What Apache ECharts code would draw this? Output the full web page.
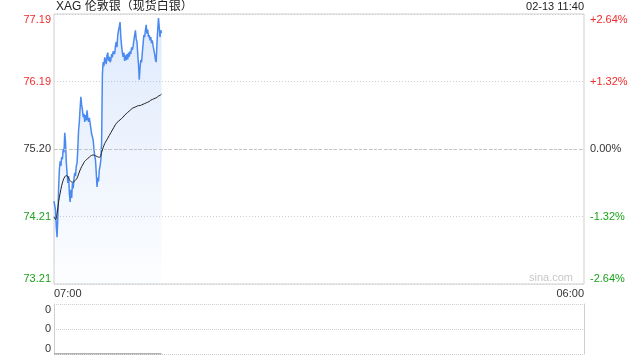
<!DOCTYPE html>
<html><head><meta charset="utf-8">
<script src="https://cdn.jsdelivr.net/npm/echarts@6/dist/echarts.min.js"></script>
<style>html,body{margin:0;padding:0;background:#fff}#c{width:640px;height:360px}</style>
</head><body><div id="c"></div>
<script>
const titleText = 'XAG 伦敦银（现货白银）';
const stampText = '02-13 11:40';
const watermarkText = 'sina.com';
const xTickLabels = ['07:00', '06:00'];
const sessionMinutes = 1380;
const priceTickLabels = ['73.21', '74.21', '75.20', '76.19', '77.19'];
const pctTickLabels = ['-2.64%', '-1.32%', '0.00%', '+1.32%', '+2.64%'];
const volTickLabels = ['0', '0', '0'];
const prevClose = 75.20;
const priceMin = 73.21;
const priceMax = 77.19;

// price sampled every 2 minutes from 07:00
const priceStep = 2;
const prices = [
  74.43, 74.45, 74.30, 74.05, 73.90, 74.20, 74.62, 74.90, 75.02, 74.95,
  75.08, 75.05, 75.20, 75.15, 75.44, 75.30, 75.00, 74.85, 74.70, 74.80,
  74.55, 74.42, 74.60, 74.48, 74.70, 74.62, 74.76, 74.85, 74.80, 74.95,
  74.99, 75.20, 75.48, 75.60, 75.80, 75.97, 75.85, 75.78, 75.67, 75.72,
  75.60, 75.70, 75.62, 75.77, 75.65, 75.60, 75.66, 75.58, 75.50, 75.42,
  75.38, 75.33, 75.20, 75.10, 75.04, 74.85, 74.64, 74.78, 74.72, 74.89,
  74.95, 75.04, 75.30, 76.30, 76.48, 76.42, 76.55, 76.51, 76.45, 76.58,
  76.62, 76.50, 76.56, 76.48, 76.51, 76.60, 76.55, 76.64, 76.66, 76.60,
  76.72, 76.78, 76.70, 76.88, 76.95, 77.00, 77.07, 76.85, 76.72, 76.62,
  76.56, 76.62, 76.50, 76.58, 76.51, 76.60, 76.52, 76.62, 76.56, 76.64,
  76.60, 76.70, 76.66, 76.72, 76.80, 76.88, 76.95, 76.82, 76.78, 76.60,
  76.45, 76.22, 76.40, 76.51, 76.48, 76.62, 76.75, 76.88, 76.85, 76.95,
  77.03, 76.90, 76.96, 76.85, 76.88, 76.80, 76.85, 76.76, 76.80, 76.72,
  76.66, 76.60, 76.52, 76.48, 76.75, 76.95, 77.13, 77.00, 76.85, 76.95,
  76.91
];

// average price sampled every 4 minutes
const avgStep = 4;
const avgPrices = [
  74.20, 74.16, 74.25, 74.42, 74.55, 74.66, 74.74, 74.79, 74.81, 74.79,
  74.75, 74.72, 74.71, 74.72, 74.74, 74.77, 74.83, 74.89, 74.94, 74.98,
  75.02, 75.04, 75.06, 75.08, 75.10, 75.11, 75.11, 75.10, 75.09, 75.08,
  75.08, 75.15, 75.22, 75.28, 75.32, 75.36, 75.40, 75.44, 75.48, 75.52,
  75.56, 75.59, 75.61, 75.63, 75.65, 75.67, 75.70, 75.72, 75.74, 75.76,
  75.78, 75.80, 75.81, 75.82, 75.83, 75.84, 75.84, 75.85, 75.86, 75.87,
  75.88, 75.89, 75.90, 75.92, 75.93, 75.94, 75.95, 75.96, 75.98, 75.99,
  76.01
];

const volTimes = [0, 20, 40, 60, 80, 100, 120, 140, 160, 180, 200, 220, 240, 260, 280];
const volumes  = [0, 0, 0, 0, 0, 0, 0, 0, 0, 0, 0, 0, 0, 0, 0];

const FONT = 'Arial, "Liberation Sans", "Noto Sans CJK SC", sans-serif';
const RED = '#f02b2b', GREEN = '#1aa31a', DARK = '#333';
const GRID_LINE = '#cfcfcf';

const priceData = prices.map((p, i) => [i * priceStep, p]);
const avgData = avgPrices.map((p, i) => [i * avgStep, p]);
const volData = volumes.map((v, i) => [volTimes[i], v]);

function priceColor(v) {
  if (v > prevClose + 0.001) return RED;
  if (v < prevClose - 0.001) return GREEN;
  return DARK;
}

const chart = echarts.init(document.getElementById('c'), null, { renderer: 'canvas' });
chart.setOption({
  animation: false,
  backgroundColor: '#fff',
  textStyle: { fontFamily: FONT },
  graphic: [
    { type: 'text', left: 56, top: 1, style: { text: titleText, fontSize: 12, fill: '#222', fontFamily: FONT } },
    { type: 'text', right: 56, top: 1, style: { text: stampText, fontSize: 11, fill: '#222', fontFamily: FONT } },
    { type: 'text', right: 67, top: 272, style: { text: watermarkText, fontSize: 11, fill: '#c8c8c8', fontFamily: FONT } }
  ],
  grid: [
    { left: 54, right: 56, top: 14, height: 270, show: true, borderColor: GRID_LINE, borderWidth: 1, backgroundColor: 'transparent' },
    { left: 54, right: 56, top: 304, height: 50, show: false }
  ],
  xAxis: [
    {
      type: 'value', gridIndex: 0, min: 0, max: sessionMinutes, interval: sessionMinutes,
      axisLine: { show: false }, axisTick: { show: false }, splitLine: { show: false },
      axisLabel: {
        margin: 4, fontSize: 11, color: DARK, fontFamily: FONT,
        alignMinLabel: 'left', alignMaxLabel: 'right',
        formatter: (v, i) => xTickLabels[i] !== undefined ? xTickLabels[i] : ''
      }
    },
    {
      type: 'value', gridIndex: 1, min: 0, max: sessionMinutes,
      axisLine: { show: false }, axisTick: { show: false }, splitLine: { show: false }, axisLabel: { show: false }
    }
  ],
  yAxis: [
    {
      type: 'value', gridIndex: 0, position: 'left', min: priceMin, max: priceMax,
      interval: (priceMax - priceMin) / 4,
      axisLine: { show: false }, axisTick: { show: false },
      splitLine: { show: true, lineStyle: { color: GRID_LINE, type: [1, 2], width: 1 } },
      axisLabel: {
        margin: 3, fontSize: 11, fontFamily: FONT,
        verticalAlignMinLabel: 'bottom', verticalAlignMaxLabel: 'top',
        formatter: (v, i) => priceTickLabels[i],
        color: (v, i) => priceColor(v)
      }
    },
    {
      type: 'value', gridIndex: 0, position: 'right', min: priceMin, max: priceMax,
      interval: (priceMax - priceMin) / 4,
      axisLine: { show: false }, axisTick: { show: false }, splitLine: { show: false },
      axisLabel: {
        margin: 6, fontSize: 11, fontFamily: FONT,
        verticalAlignMinLabel: 'bottom', verticalAlignMaxLabel: 'top',
        formatter: (v, i) => pctTickLabels[i],
        color: (v, i) => priceColor(v)
      }
    },
    {
      type: 'value', gridIndex: 1, position: 'left', min: 0, max: 2, interval: 1,
      axisLine: { show: true, lineStyle: { color: GRID_LINE } }, axisTick: { show: false },
      splitLine: { show: true, lineStyle: { color: GRID_LINE, type: [1, 1], width: 1 } },
      axisLabel: {
        margin: 3, fontSize: 11, color: DARK, fontFamily: FONT,
        verticalAlignMinLabel: 'bottom', verticalAlignMaxLabel: 'top',
        formatter: (v, i) => volTickLabels[i]
      }
    },
    {
      type: 'value', gridIndex: 1, position: 'right', min: 0, max: 2, interval: 1,
      axisLine: { show: true, lineStyle: { color: GRID_LINE } }, axisTick: { show: false },
      splitLine: { show: false }, axisLabel: { show: false }
    }
  ],
  series: [
    {
      type: 'line', xAxisIndex: 0, yAxisIndex: 0, data: priceData, showSymbol: false, symbol: 'none',
      lineStyle: { color: '#4a8af0', width: 1.5 },
      areaStyle: {
        origin: 'start',
        color: new echarts.graphic.LinearGradient(0, 0, 0, 1, [
          { offset: 0, color: 'rgba(70,135,240,0.25)' },
          { offset: 1, color: 'rgba(70,135,240,0.02)' }
        ])
      },
      markLine: {
        silent: true, symbol: 'none', label: { show: false },
        lineStyle: { color: '#c4c4c4', type: [3, 2], width: 1 },
        data: [{ yAxis: prevClose }]
      },
      z: 3
    },
    {
      type: 'line', xAxisIndex: 0, yAxisIndex: 0, data: avgData, showSymbol: false, symbol: 'none',
      smooth: 0.3, lineStyle: { color: '#222', width: 1 }, z: 4
    },
    {
      type: 'line', xAxisIndex: 1, yAxisIndex: 2, data: volData, showSymbol: false, symbol: 'none',
      lineStyle: { color: '#666', width: 1 }, z: 4
    }
  ]
});
</script>
</body></html>
